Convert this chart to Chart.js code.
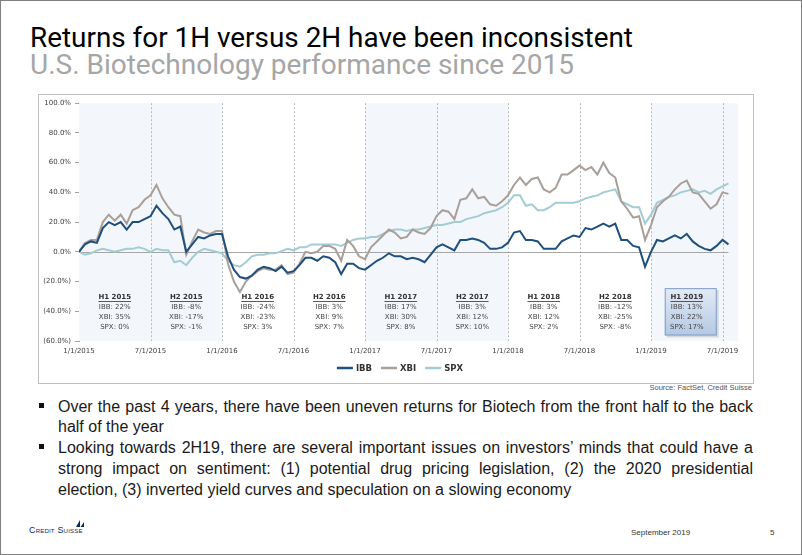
<!DOCTYPE html>
<html>
<head>
<meta charset="utf-8">
<script src="https://cdn.jsdelivr.net/npm/chart.js@4.4.1/dist/chart.umd.min.js"></script>
<style>
html, body { margin: 0; padding: 0; background: #fff; }
#page { position: relative; width: 802px; height: 555px; box-sizing: border-box; border: 1px solid #7f7f7f; overflow: hidden; font-family: 'Liberation Sans', Arial, sans-serif; }
.head { position: absolute; left: 29px; font-family: Roboto, sans-serif; font-size: 27px; line-height: 27px; white-space: nowrap; transform-origin: 0 0; }
#title { top: 24px; color: #000; }
#subtitle { top: 51px; color: #a6a6a6; }
#panel { position: absolute; left: 37px; top: 93px; width: 716px; height: 290px; box-sizing: border-box; border: 1px solid #bfbfbf; }
#panel canvas { position: absolute; left: 0; top: 0; }
#source { position: absolute; right: 49px; top: 382px; font-size: 7.5px; color: #555; }
.ln { position: absolute; left: 57px; width: 695px; font-size: 16px; line-height: 21px; color: #1a1a1a; white-space: nowrap; text-align: justify; text-align-last: justify; }
.ln.last { text-align-last: left; }
.sq { position: absolute; left: 38px; width: 5px; height: 5px; background: #111; }
#logo { position: absolute; left: 28px; top: 524px; font-size: 9px; color: #0b2a5b; font-variant: small-caps; letter-spacing: 0.2px; white-space: nowrap; }
#logo svg { position: absolute; left: 46px; top: -6px; }
#date { position: absolute; left: 630px; top: 527px; font-size: 8px; color: #333; }
#pnum { position: absolute; left: 769px; top: 527px; font-size: 8px; color: #333; }
</style>
</head>
<body>
<div id="page">
  <div class="head" id="title">Returns for 1H versus 2H have been inconsistent</div>
  <div class="head" id="subtitle">U.S. Biotechnology performance since 2015</div>
  <div id="panel"><canvas id="chart" width="714" height="288"></canvas></div>
  <div id="source">Source: FactSet, Credit Suisse</div>

  <div class="sq" style="top:402px"></div>
  <div class="ln" style="top:395px">Over the past 4 years, there have been uneven returns for Biotech from the front half to the back</div>
  <div class="ln last" style="top:415px">half of the year</div>
  <div class="sq" style="top:443px"></div>
  <div class="ln" style="top:436px">Looking towards 2H19, there are several important issues on investors’ minds that could have a</div>
  <div class="ln" style="top:457px">strong impact on sentiment: (1) potential drug pricing legislation, (2) the 2020 presidential</div>
  <div class="ln last" style="top:478px">election, (3) inverted yield curves and speculation on a slowing economy</div>

  <div id="logo">Credit Suisse<svg width="10" height="9" viewBox="0 0 10 9"><path d="M1 8 L5 1 L5 8 Z M5.5 8 L9 3 L9 8 Z" fill="#0b2a5b"/></svg></div>
  <div id="date">September 2019</div>
  <div id="pnum">5</div>
</div>

<script>
// x values are months since 1/1/2015, one sample every half month
const step = 0.5;
const tickLabels = ['1/1/2015', '7/1/2015', '1/1/2016', '7/1/2016', '1/1/2017', '7/1/2017', '1/1/2018', '7/1/2018', '1/1/2019', '7/1/2019'];

const ibb = [0, 5, 7, 6, 16, 20, 18, 20, 15, 20, 20, 22, 24, 31, 26, 22, 15, 17, 0, 5, 10, 9, 11, 12, 12,
  -3, -12, -17, -18, -16, -12, -10, -11, -13, -10, -14, -13, -9, -4, -4, -6, -3, -4, -7, -15, -8, -8, -11, -12,
  -9, -6, -4, -1, -3, -3, -5, -4, -5, -7, -2, 3, 5, 3, 1, 8, 8, 9, 8, 6, 2, 2, 3, 6,
  13, 14, 8, 8, 7, 2, 2, 2, 7, 9, 11, 10, 16, 15, 17, 19, 17, 19, 8, 8, 4, 3, -10, 0,
  8, 7, 9, 11, 9, 12, 7, 4, 2, 1, 4, 8, 5];
const xbi = [0, 6, 8, 8, 20, 25, 21, 25, 19, 28, 30, 35, 38, 45, 36, 30, 25, 24, -2, 7, 15, 13, 12, 14, 14,
  -8, -20, -27, -20, -16, -13, -11, -12, -12, -9, -15, -14, -8, 0, -1, 0, 4, 4, 2, -6, 8, 4, -3, -5,
  3, 7, 11, 15, 13, 9, 10, 15, 13, 12, 16, 24, 28, 27, 22, 35, 36, 42, 36, 37, 32, 31, 34, 38,
  45, 50, 45, 49, 50, 42, 40, 43, 52, 52, 55, 58, 55, 57, 52, 60, 53, 50, 34, 29, 23, 24, 8, 18,
  30, 34, 37, 42, 46, 48, 40, 39, 34, 29, 32, 40, 39];
const spx = [0, -2, -1, 1, 2, 1, 0, 1, 2, 2, 3, 2, 0, 2, 1, 1, -7, -6, -9, -4, 0, 2, 1, 0, -1,
  -6, -9, -10, -7, -3, -2, -2, -1, -1, 0.5, 2, 1, 3, 3, 5, 5, 5, 5, 5, 4, 6, 8, 9, 9,
  10, 10, 12, 14, 15, 15, 14, 15, 15, 16, 17, 18, 18, 19, 20, 20, 22, 23, 24, 26, 27, 28, 30, 33,
  38, 38, 31, 32, 28, 28, 30, 33, 33, 33, 33, 34, 36, 37, 38, 40, 41, 42, 34, 32, 30, 30, 19, 25,
  33, 35, 37, 38, 40, 41, 42, 40, 41, 39, 42, 44, 46];

// half-year return boxes
const halves = ['H1 2015', 'H2 2015', 'H1 2016', 'H2 2016', 'H1 2017', 'H2 2017', 'H1 2018', 'H2 2018', 'H1 2019'];
const halfIbb = [22, -8, -24, 3, 17, 3, 3, -12, 13];
const halfXbi = [35, -17, -23, 9, 30, 12, 12, -25, 22];
const halfSpx = [0, -1, 3, 7, 8, 10, 2, -8, 17];
const shaded = [0, 1, 4, 5, 8];
const highlight = 8;

const pts = arr => arr.map((v, i) => ({ x: i * step, y: v }));
const pct = v => v < 0 ? '(' + (-v).toFixed(1) + '%)' : v.toFixed(1) + '%';
const FONT = "'DejaVu Sans', Verdana, sans-serif";

const decor = {
    id: 'decor',
    beforeDatasetsDraw(chart) {
        const { ctx, chartArea: a, scales: { x, y } } = chart;
        ctx.save();
        ctx.fillStyle = '#f3f7fc';
        shaded.forEach(i => {
            const x0 = x.getPixelForValue(i * 6);
            const x1 = x.getPixelForValue(i === halves.length - 1 ? x.max : i * 6 + 6);
            ctx.fillRect(x0, a.top, x1 - x0, a.bottom - a.top);
        });
        ctx.strokeStyle = '#b9b9b9';
        ctx.lineWidth = 1;
        ctx.setLineDash([2, 2]);
        for (let k = 1; k < tickLabels.length; k++) {
            const px = Math.round(x.getPixelForValue(k * 6)) + 0.5;
            ctx.beginPath();
            ctx.moveTo(px, a.top);
            ctx.lineTo(px, a.bottom);
            ctx.stroke();
        }
        ctx.setLineDash([]);
        const y0 = Math.round(y.getPixelForValue(0)) + 0.5;
        ctx.strokeStyle = '#a6a6a6';
        ctx.beginPath();
        ctx.moveTo(a.left, y0);
        ctx.lineTo(x.getPixelForValue((ibb.length - 1) * step), y0);
        ctx.stroke();
        ctx.restore();
    },
    afterDatasetsDraw(chart) {
        const { ctx, scales: { x, y } } = chart;
        ctx.save();
        ctx.textAlign = 'center';
        ctx.textBaseline = 'middle';
        const rows = [-30.5, -37.3, -44.1, -50.9].map(v => y.getPixelForValue(v));
        halves.forEach((h, i) => {
            const cx = x.getPixelForValue(i * 6 + 3);
            if (i === highlight) {
                const bx = cx - 22, by = rows[0] - 9, bw = 52, bh = rows[3] - rows[0] + 17;
                const g = ctx.createLinearGradient(0, by, 0, by + bh);
                g.addColorStop(0, '#e3ebf6');
                g.addColorStop(1, '#b4c8e3');
                ctx.fillStyle = 'rgba(0,0,0,0.12)';
                ctx.fillRect(bx + 2, by + 2, bw, bh);
                ctx.fillStyle = g;
                ctx.fillRect(bx, by, bw, bh);
                ctx.strokeStyle = '#7f9cc6';
                ctx.lineWidth = 1;
                ctx.strokeRect(bx + 0.5, by + 0.5, bw - 1, bh - 1);
            }
            ctx.fillStyle = '#333';
            ctx.font = 'bold 7px ' + FONT;
            ctx.fillText(h, cx, rows[0]);
            const w = ctx.measureText(h).width;
            ctx.fillRect(cx - w / 2, Math.round(rows[0]) + 4, w, 0.8);
            ctx.font = '7px ' + FONT;
            ctx.fillStyle = '#444';
            ctx.fillText('IBB: ' + halfIbb[i] + '%', cx, rows[1]);
            ctx.fillText('XBI: ' + halfXbi[i] + '%', cx, rows[2]);
            ctx.fillText('SPX: ' + halfSpx[i] + '%', cx, rows[3]);
        });
        ctx.restore();
    },
    afterDraw(chart) {
        // legend: short line followed by bold label
        const { ctx } = chart;
        ctx.save();
        ctx.font = 'bold 8.5px ' + FONT;
        ctx.textBaseline = 'middle';
        const sets = chart.data.datasets;
        const lineW = 16, gap = 3, sep = 9;
        const widths = sets.map(d => lineW + gap + ctx.measureText(d.label).width);
        const total = widths.reduce((s, w) => s + w, 0) + sep * (sets.length - 1);
        let px = chart.width / 2 - total / 2 + 4;
        const py = 273;
        sets.forEach((d, i) => {
            ctx.strokeStyle = d.borderColor;
            ctx.lineWidth = 2.5;
            ctx.beginPath();
            ctx.moveTo(px, py);
            ctx.lineTo(px + lineW, py);
            ctx.stroke();
            ctx.fillStyle = '#333';
            ctx.fillText(d.label, px + lineW + gap, py + 0.5);
            px += widths[i] + sep;
        });
        ctx.restore();
    }
};

new Chart(document.getElementById('chart').getContext('2d'), {
    type: 'line',
    data: {
        datasets: [
            { label: 'IBB', data: pts(ibb), borderColor: '#1f4f7d', borderWidth: 2 },
            { label: 'XBI', data: pts(xbi), borderColor: '#a99f99', borderWidth: 2 },
            { label: 'SPX', data: pts(spx), borderColor: '#a3ccd3', borderWidth: 2 }
        ]
    },
    options: {
        responsive: false,
        animation: false,
        devicePixelRatio: 1,
        layout: { padding: { top: 8, right: 15, left: 0, bottom: 0 } },
        elements: { point: { radius: 0 }, line: { tension: 0 } },
        plugins: { legend: { display: false }, tooltip: { enabled: false } },
        scales: {
            x: {
                type: 'linear',
                min: 0,
                max: 55.3,
                afterFit: s => { s.height = 42; },
                grid: { display: false, drawTicks: false },
                border: { display: false },
                ticks: {
                    stepSize: 6,
                    includeBounds: false,
                    autoSkip: false,
                    maxRotation: 0,
                    padding: 6,
                    color: '#404040',
                    font: { family: FONT, size: 7 },
                    callback: v => v % 6 === 0 ? tickLabels[v / 6] : ''
                }
            },
            y: {
                min: -60,
                max: 100,
                afterFit: s => { s.width = 40; },
                grid: { drawOnChartArea: false, tickLength: 4, color: '#a0a0a0' },
                border: { color: '#a0a0a0' },
                ticks: {
                    stepSize: 20,
                    padding: 4,
                    color: '#404040',
                    font: { family: FONT, size: 7 },
                    callback: v => pct(v)
                }
            }
        }
    },
    plugins: [decor]
});

// squeeze headings to the reference widths
function fitWidth(id, target) {
    const el = document.getElementById(id);
    el.style.transform = 'scaleX(' + (target / el.getBoundingClientRect().width) + ')';
}
fitWidth('title', 603);
fitWidth('subtitle', 544);

// keep justified lines from overflowing
document.querySelectorAll('.ln').forEach(el => {
    const probe = document.createElement('span');
    probe.textContent = el.textContent;
    probe.style.cssText = 'position:absolute;visibility:hidden;white-space:nowrap;font-size:16px;';
    document.body.appendChild(probe);
    let ls = 0;
    while (probe.getBoundingClientRect().width > 690 && ls > -1) {
        ls -= 0.05;
        probe.style.letterSpacing = ls + 'px';
    }
    el.style.letterSpacing = ls + 'px';
    probe.remove();
});
</script>
</body>
</html>
